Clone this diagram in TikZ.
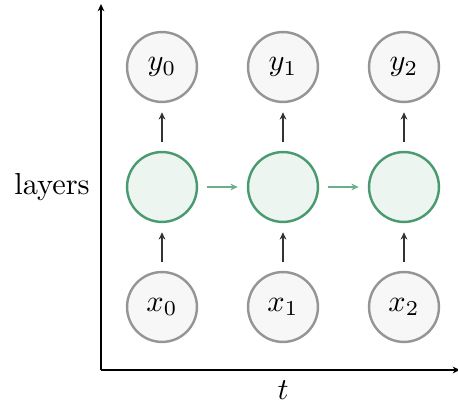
\documentclass[tikz,border=0pt]{standalone}
\usetikzlibrary{arrows.meta}
\definecolor{obsborder}{HTML}{959595}
\definecolor{obsfill}{HTML}{F7F7F7}
\definecolor{hidborder}{HTML}{4A9A70}
\definecolor{hidfill}{HTML}{ECF5EF}
\definecolor{hidarrow}{HTML}{6AAE8A}
\begin{document}
\begin{tikzpicture}[x=0.329pt,y=-0.329pt,
  obs/.style={circle,draw=obsborder,fill=obsfill,line width=0.8pt,minimum size=23pt,inner sep=0pt},
  hid/.style={circle,draw=hidborder,fill=hidfill,line width=0.8pt,minimum size=23pt,inner sep=0pt},
  uparrow/.style={-{Stealth[length=2.4pt,width=2.2pt]},draw=black!80,line width=0.4pt,shorten <=3pt,shorten >=3pt},
  sidearrow/.style={-{Stealth[length=2.4pt,width=2.2pt]},draw=hidarrow,line width=0.4pt,shorten <=3pt,shorten >=3pt},
  axis/.style={-{Stealth[length=2.4pt,width=2.2pt]},line width=0.45pt}]
\useasboundingbox (0,0) rectangle (458,403);
\coordinate (origin) at (101,370);
\coordinate (ytop) at (101,4);
\coordinate (xend) at (460,370);
\draw[axis] (origin) -- (ytop);
\draw[axis] (origin) -- (xend);
\node (layers) at (52,187) {layers};
\node (tlabel) at (283,390) {$t$};
\foreach \i/\x in {0/162,1/283,2/404}{
  \node[obs] (y\i) at (\x,67) {$y_{\i}$};
  \node[hid] (h\i) at (\x,187) {};
  \node[obs] (x\i) at (\x,307) {$x_{\i}$};
  \draw[uparrow] (x\i) -- (h\i);
  \draw[uparrow] (h\i) -- (y\i);
}
\draw[sidearrow] (h0) -- (h1);
\draw[sidearrow] (h1) -- (h2);
\end{tikzpicture}
\end{document}
